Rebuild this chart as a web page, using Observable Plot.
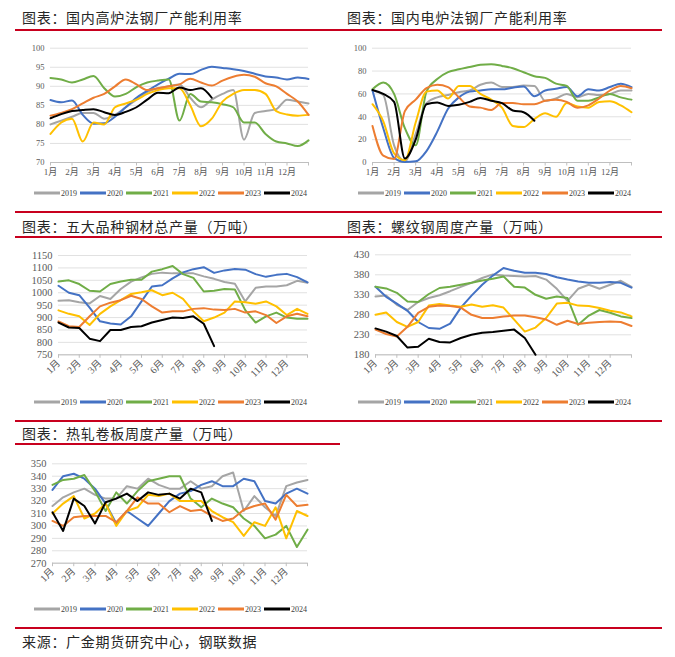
<!DOCTYPE html>
<html><head><meta charset="utf-8">
<script src="https://cdn.jsdelivr.net/npm/d3@7"></script>
<script src="https://cdn.jsdelivr.net/npm/@observablehq/plot@0.6"></script>
<style>
body{margin:0;background:#fff;}
#page{position:relative;width:675px;height:657px;overflow:hidden;background:#fff;font-family:"Noto Sans CJK SC",sans-serif;}
.title{position:absolute;font-size:14px;color:#262626;letter-spacing:0.7px;line-height:16px;white-space:nowrap;}
.rule{position:absolute;height:1.5px;background:#c8001e;}
.legend{position:absolute;display:flex;align-items:center;font-family:"Liberation Serif",serif;font-size:8px;color:#404040;transform:translate(-50%,-50%);white-space:nowrap;}
.legend .sw{display:inline-block;width:26px;height:2.5px;margin-right:1px;}
.legend .lb{margin-right:3px;}
</style></head>
<body><div id="page"></div>
<script>
// ---------- shared ----------
const months = ["1月","2月","3月","4月","5月","6月","7月","8月","9月","10月","11月","12月"];
const years = ["2019","2020","2021","2022","2023","2024"];
const yearColors = ["#A5A5A5","#4472C4","#70AD47","#FFC000","#ED7D31","#000000"];
const STEP = 0.5; // half-month sampling, in months from 1 Jan

// ---------- 国内高炉法钢厂产能利用率 ----------
const bf2019 = [80,81,82,83,83,81.5,82.5,84.5,86.5,88.5,89.5,90,90.5,87,84.5,86.5,88,89,76,83,83.5,84,86.5,86,85.5];
const bf2020 = [86.4,85.8,86.3,82.5,80.2,80.3,82,84.5,87,88.8,90.5,92,93.3,93.2,94.3,95.1,94.8,94.5,94,93.3,92.6,92.3,91.8,92.3,91.9];
const bf2021 = [92.2,91.8,91,91.8,92.7,89.5,87.3,88,89.8,91,91.5,91.8,81,88,86,85.8,85.3,84.5,80.5,80.5,77.5,75.5,75,74.3,75.8];
const bf2022 = [77.5,80.5,81.5,75.5,80.5,80,84.5,85.5,86.5,88,89,89.5,89.5,85,79.5,81.5,86,88,89,89,88,83.5,82.6,82.3,82.5];
const bf2023 = [82.3,83,84,85.5,87,88,90,91.8,90.5,89,89.5,90,90.5,92,91,90.2,91.5,92.5,93,92.5,90.8,90,88,86,82.5];
const bf2024 = [81.6,82.7,83.5,83.8,84,83.2,82.5,83.3,84.5,86.5,88.3,88.2,89.7,89,89.5,87];

// ---------- 国内电炉法钢厂产能利用率 ----------
const ef2019 = [63,59,15,1,25,52,57,59,61.5,63,68,70,66,66,67.3,67,54,56,60,57,60,59,60,63,63];
const ef2020 = [63,30,4,0.5,1,10,27,47,57,62,63,64,64,65.5,66.5,58,63,64.5,66,58,64,63,66,69,66];
const ef2021 = [64,70,60,30,15,62,73,79,81.5,83.5,85.5,86,84.5,82.5,79,75.5,74,69,67,54,54,57,60,57,55];
const ef2022 = [51,36,8,2,35,62,63,56,67,67,60,55,48,32,31,38,43,40,52,49,48,53,53.5,50,44];
const ef2023 = [32,6,3,45,55,65,68,66,57,49,48,46,52,52,51,51,54,55,53,48,50,56,63,67,65];
const ef2024 = [63.5,60,53,3.5,20,51,52.5,49.5,50.5,53,56.5,54,52,45.5,44,36.5];

// ---------- 五大品种钢材总产量（万吨） ----------
const wd2019 = [968,970,962,957,987,975,1015,1045,1062,1076,1081,1078,1079,1078,1066,1056,1043,1036,965,1020,1025,1025,1030,1048,1040];
const wd2020 = [1028,1000,990,940,885,876,872,905,965,1025,1030,1058,1082,1095,1103,1080,1090,1096,1093,1075,1064,1072,1076,1063,1042];
const wd2021 = [1045,1050,1035,1008,1005,1035,1045,1052,1052,1085,1095,1108,1075,1060,1005,1008,1015,1013,930,880,905,920,900,895,895];
const wd2022 = [929,915,905,870,915,945,970,995,1002,1010,990,1000,975,925,885,900,920,965,962,956,965,945,910,935,915];
const wd2023 = [885,865,862,905,945,960,970,988,975,945,920,925,925,935,938,932,930,935,920,925,910,878,905,915,905];
const wd2024 = [880,860,858,815,805,850,850,862,865,880,890,900,898,905,875,785];

// ---------- 螺纹钢周度产量（万吨） ----------
const lw2019 = [326,328,305,292,312,322,329,339,350,360,372,381,378,377,376,377,368,345,315,345,355,345,355,365,350];
const lw2020 = [350,325,308,290,262,247,245,258,298,328,355,378,397,390,385,385,382,374,368,363,360,360,362,360,348];
const lw2021 = [350,346,335,313,312,332,347,350,355,360,366,370,376,350,348,330,320,326,322,255,278,292,285,276,272];
const lw2022 = [280,286,262,250,262,303,307,303,300,306,300,304,298,268,238,248,272,308,310,303,302,297,290,286,276];
const lw2023 = [243,232,226,250,285,300,303,302,298,280,272,272,276,278,278,274,268,255,265,257,260,262,263,262,252];
const lw2024 = [246,238,227,198,200,220,212,211,222,230,235,237,240,243,222,180];

// ---------- 热轧卷板周度产量（万吨） ----------
const rz2019 = [316,323,327,330,325,322,322,332,330,338,333,330,330,336,330,332,340,343,312,324,315,308,332,335,337];
const rz2020 = [329,340,342,338,330,318,302,312,306,300,310,320,326,328,333,336,332,332,338,336,320,318,326,330,326];
const rz2021 = [333,337,338,341,328,312,327,318,328,336,338,340,340,322,315,322,318,315,306,300,290,293,300,283,297];
const rz2022 = [310,318,324,306,310,318,300,312,315,325,324,326,320,320,320,312,307,303,292,303,300,315,290,312,308];
const rz2023 = [304,300,307,308,308,308,303,312,323,318,318,311,316,312,313,308,304,306,313,316,318,305,325,316,317];
const rz2024 = [311,296,322,316,302,319,322,326,320,327,325,326,322,330,327,304];

// ---------- layout ----------
const page = document.getElementById("page");

function addTitle(text, x, cy) {
  const d = document.createElement("div");
  d.className = "title"; d.textContent = text;
  d.style.left = x + "px"; d.style.top = (cy - 8) + "px";
  page.append(d);
}
function addRule(x1, x2, y) {
  const d = document.createElement("div");
  d.className = "rule";
  d.style.left = x1 + "px"; d.style.width = (x2 - x1) + "px"; d.style.top = (y - 0.75) + "px";
  page.append(d);
}
function addLegend(cx, cy) {
  const d = document.createElement("div");
  d.className = "legend";
  d.style.left = cx + "px"; d.style.top = cy + "px";
  years.forEach((y, i) => {
    const s = document.createElement("span"); s.className = "sw"; s.style.background = yearColors[i];
    const l = document.createElement("span"); l.className = "lb"; l.textContent = y;
    d.append(s, l);
  });
  page.append(d);
}
function rows(arrays) {
  const out = [];
  arrays.forEach((vals, k) => vals.forEach((v, i) => out.push({m: i * STEP, v, year: years[k]})));
  return out;
}
function drawPanel(c) {
  const chart = Plot.plot({
    width: c.W, height: c.H,
    marginLeft: c.plotL - c.sx, marginRight: c.sx + c.W - c.plotR,
    marginTop: c.plotT - c.sy, marginBottom: c.sy + c.H - c.plotB,
    style: {fontFamily: "'Liberation Serif','Noto Sans CJK SC',serif", fontSize: c.yFont + "px", color: "#595959", background: "transparent", overflow: "visible"},
    x: {domain: [0, 12]},
    y: {domain: c.yDomain},
    color: {domain: years, range: yearColors},
    marks: [
      Plot.gridY(c.yTicks, {stroke: "#d9d9d9", strokeOpacity: 1, strokeWidth: 0.8}),
      Plot.axisY(c.yTicks, {tickSize: 0, tickPadding: 6, fontSize: c.yFont, label: null, tickFormat: d => String(d)}),
      Plot.ruleY([c.yDomain[0]], {stroke: "#bfbfbf", strokeWidth: 1}),
      Plot.axisX(d3.range(13), {tickSize: 3.5, stroke: "#bfbfbf", tickFormat: d => d < 12 ? months[d] : "", tickRotate: c.rotate || 0, fontSize: c.xFont, tickPadding: c.rotate ? 3 : 3, label: null}),
      Plot.line(c.data, {x: "m", y: "v", z: "year", stroke: "year", strokeWidth: 2, curve: c.curve || "linear"})
    ]
  });
  chart.style.position = "absolute";
  chart.style.left = c.sx + "px";
  chart.style.top = c.sy + "px";
  chart.style.maxWidth = "none";
  page.append(chart);
}

// titles and rules
addTitle("图表：国内高炉法钢厂产能利用率", 22, 17);
addTitle("图表：国内电炉法钢厂产能利用率", 347, 17);
addRule(15, 662, 30);
addRule(15, 662, 212);
addTitle("图表：五大品种钢材总产量（万吨）", 22, 226);
addTitle("图表：螺纹钢周度产量（万吨）", 347, 226);
addRule(15, 662, 237);
addRule(15, 662, 421);
addTitle("图表：热轧卷板周度产量（万吨）", 22, 433);
addRule(15, 340, 444);
addRule(15, 662, 628);
const src = document.createElement("div");
src.className = "title"; src.textContent = "来源：广金期货研究中心，钢联数据";
src.style.left = "22px"; src.style.top = (641 - 8) + "px";
page.append(src);

drawPanel({sx: 0, sy: 36, W: 325, H: 146, plotL: 50, plotR: 308, plotT: 47.7, plotB: 162,
  yDomain: [70, 100], yTicks: d3.range(70, 101, 5), yFont: 8.5, xFont: 9, curve: "monotone-x",
  data: rows([bf2019, bf2020, bf2021, bf2022, bf2023, bf2024])});
addLegend(172, 193);

drawPanel({sx: 335, sy: 36, W: 330, H: 146, plotL: 372, plotR: 631, plotT: 47.7, plotB: 162,
  yDomain: [0, 100], yTicks: d3.range(0, 101, 20), yFont: 8.5, xFont: 9, curve: "monotone-x",
  data: rows([ef2019, ef2020, ef2021, ef2022, ef2023, ef2024])});
addLegend(496, 193);

drawPanel({sx: 0, sy: 243, W: 325, H: 140, plotL: 58, plotR: 307, plotT: 255, plotB: 354.3,
  yDomain: [750, 1150], yTicks: d3.range(750, 1151, 50), yFont: 10.5, xFont: 10, rotate: -45,
  data: rows([wd2019, wd2020, wd2021, wd2022, wd2023, wd2024])});
addLegend(172, 402);

drawPanel({sx: 335, sy: 243, W: 330, H: 140, plotL: 375, plotR: 631, plotT: 254.3, plotB: 354.3,
  yDomain: [180, 430], yTicks: d3.range(180, 431, 50), yFont: 10.5, xFont: 10, rotate: -45,
  data: rows([lw2019, lw2020, lw2021, lw2022, lw2023, lw2024])});
addLegend(496, 402);

drawPanel({sx: 0, sy: 452, W: 325, H: 140, plotL: 52, plotR: 307, plotT: 463.3, plotB: 562.7,
  yDomain: [270, 350], yTicks: d3.range(270, 351, 10), yFont: 10.5, xFont: 10, rotate: -45,
  data: rows([rz2019, rz2020, rz2021, rz2022, rz2023, rz2024])});
addLegend(172, 609);
</script></body></html>
